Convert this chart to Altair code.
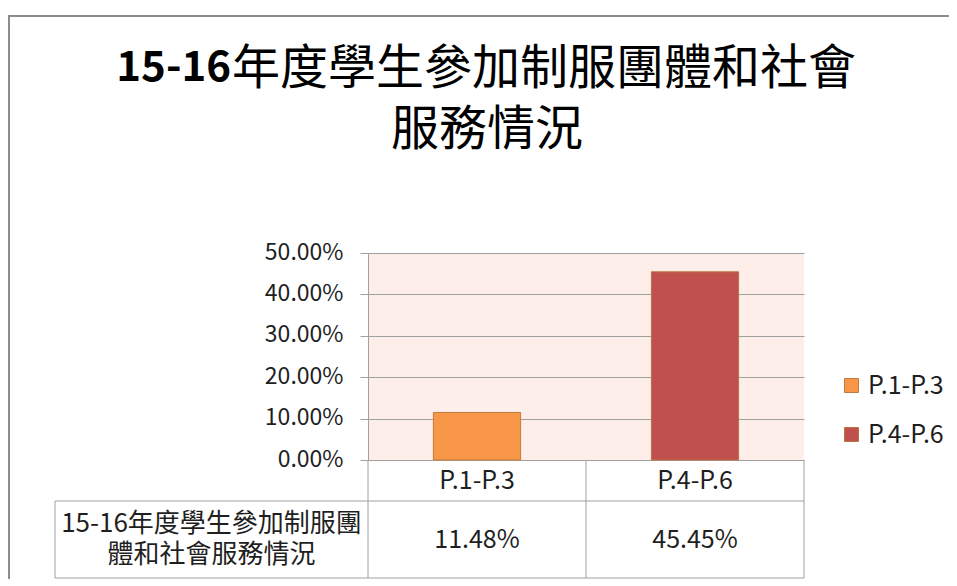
import altair as alt
import pandas as pd

# ---- data ----
categories = ["P.1-P.3", "P.4-P.6"]
values = [0.1148, 0.4545]
value_labels = ["11.48%", "45.45%"]
fill_colors = ["#F79646", "#C0504D"]
stroke_colors = ["#C27A3E", "#BA7340"]
y_ticks = [0.0, 0.1, 0.2, 0.3, 0.4, 0.5]
title_bold = "15-16"
title_rest = "年度學生參加制服團體和社會"
title_line2 = "服務情況"
row_label = "15-16年度學生參加制服團\n體和社會服務情況"
boundaries = [0, 1, 2]

# ---- layout (pixels) ----
F = "Noto Sans CJK TC"
TXT = "#1f1f1f"
GRID = "#A0A0A0"
W, H = 436, 207
PAD = {"left": 360, "top": 245, "right": 145, "bottom": 119}
ROW1 = 41      # header row height
ROW2 = 77      # value row height
LBL_LEFT = -313

df = pd.DataFrame({"cat": categories, "value": values,
                   "idx": [0, 1], "label": value_labels})
bdf = pd.DataFrame({"b": boundaries})
one = pd.DataFrame({"t": [row_label]})

xq = alt.Scale(domain=[0, 2], nice=False, zero=False)
color_scale = alt.Scale(domain=categories, range=fill_colors)
stroke_scale = alt.Scale(domain=categories, range=stroke_colors)

legend = alt.Legend(
    title=None, orient="none", legendX=471, legendY=120,
    symbolType="square", symbolSize=196, symbolStrokeWidth=1,
    labelFontSize=25, labelFont=F, labelColor=TXT,
    rowPadding=23, labelOffset=4, padding=0,
)

bars = alt.Chart(df).transform_calculate(
    x0="datum.idx + 0.3", x1="datum.idx + 0.7"
).mark_bar(strokeWidth=1).encode(
    x=alt.X("x0:Q", scale=xq, axis=None),
    x2="x1:Q",
    y=alt.Y("value:Q",
            scale=alt.Scale(domain=[0, 0.5], nice=False, zero=True),
            axis=alt.Axis(values=y_ticks, format=".2%", title=None,
                          labelFont=F, labelFontSize=23, labelColor=TXT,
                          labelPadding=17, labelOffset=-1,
                          tickSize=8, tickColor=GRID,
                          domainColor=GRID, gridColor=GRID, gridWidth=1,
                          grid=True)),
    y2=alt.datum(0),
    fill=alt.Fill("cat:N", scale=color_scale, legend=legend),
    stroke=alt.Stroke("cat:N", scale=stroke_scale, legend=legend),
)

header = alt.Chart(df).transform_calculate(
    xc="datum.idx + 0.5"
).mark_text(font=F, fontSize=25, color=TXT).encode(
    x=alt.X("xc:Q", scale=xq, axis=None),
    y=alt.value(H + ROW1 / 2),
    text="cat:N",
)

vals = alt.Chart(df).transform_calculate(
    xc="datum.idx + 0.5"
).mark_text(font=F, fontSize=25, color=TXT).encode(
    x=alt.X("xc:Q", scale=xq, axis=None),
    y=alt.value(H + ROW1 + ROW2 / 2),
    text="label:N",
)

rowlab = alt.Chart(one).mark_text(
    font=F, fontSize=26, color=TXT, lineBreak="\n", lineHeight=31
).encode(
    x=alt.value(LBL_LEFT / 2),
    y=alt.value(H + ROW1 + ROW2 / 2 - 16),
    text="t:N",
)

vlines = alt.Chart(bdf).mark_rule(color=GRID, strokeWidth=1).encode(
    x=alt.X("b:Q", scale=xq, axis=None),
    y=alt.value(H),
    y2=alt.value(H + ROW1 + ROW2),
)

lab_left = alt.Chart(one).mark_rule(color=GRID, strokeWidth=1).encode(
    x=alt.value(LBL_LEFT), y=alt.value(H + ROW1), y2=alt.value(H + ROW1 + ROW2),
)
h1 = alt.Chart(one).mark_rule(color=GRID, strokeWidth=1).encode(
    x=alt.value(LBL_LEFT), x2=alt.value(W), y=alt.value(H + ROW1),
)
h2 = alt.Chart(one).mark_rule(color=GRID, strokeWidth=1).encode(
    x=alt.value(LBL_LEFT), x2=alt.value(W), y=alt.value(H + ROW1 + ROW2),
)

# title (bold "15-16" followed by regular Chinese text, as in the reference)
SPLIT = -136
t1a = alt.Chart(one).mark_text(
    font=F, fontSize=42, fontWeight="bold", color="#000000",
    align="right", baseline="middle",
).encode(x=alt.value(SPLIT - 1), y=alt.value(-185), text=alt.value(title_bold))
t1b = alt.Chart(one).mark_text(
    font=F, fontSize=48, fontWeight="normal", color="#000000",
    align="left", baseline="middle",
).encode(x=alt.value(SPLIT), y=alt.value(-183), text=alt.value(title_rest))
t2 = alt.Chart(one).mark_text(
    font=F, fontSize=48, fontWeight="normal", color="#000000",
    align="center", baseline="middle",
).encode(x=alt.value(119), y=alt.value(-122), text=alt.value(title_line2))

# outer chart frame (top and left edges visible in the reference)
frame_top = alt.Chart(one).mark_rule(color="#8C8C8C", strokeWidth=2).encode(
    x=alt.value(-PAD["left"]), x2=alt.value(W + PAD["right"]), y=alt.value(-237),
)
frame_left = alt.Chart(one).mark_rule(color="#8C8C8C", strokeWidth=2).encode(
    x=alt.value(-PAD["left"] + 1), y=alt.value(-238), y2=alt.value(H + PAD["bottom"]),
)

chart = alt.layer(
    bars, vlines, lab_left, h1, h2, header, vals, rowlab,
    t1a, t1b, t2, frame_top, frame_left
).properties(
    width=W, height=H,
    padding=PAD,
    autosize=alt.AutoSizeParams(type="none"),
).configure_view(
    fill="#FDEEEA", stroke=None,
)

chart.save("out.html", embed_options={"renderer": "svg", "actions": False})
